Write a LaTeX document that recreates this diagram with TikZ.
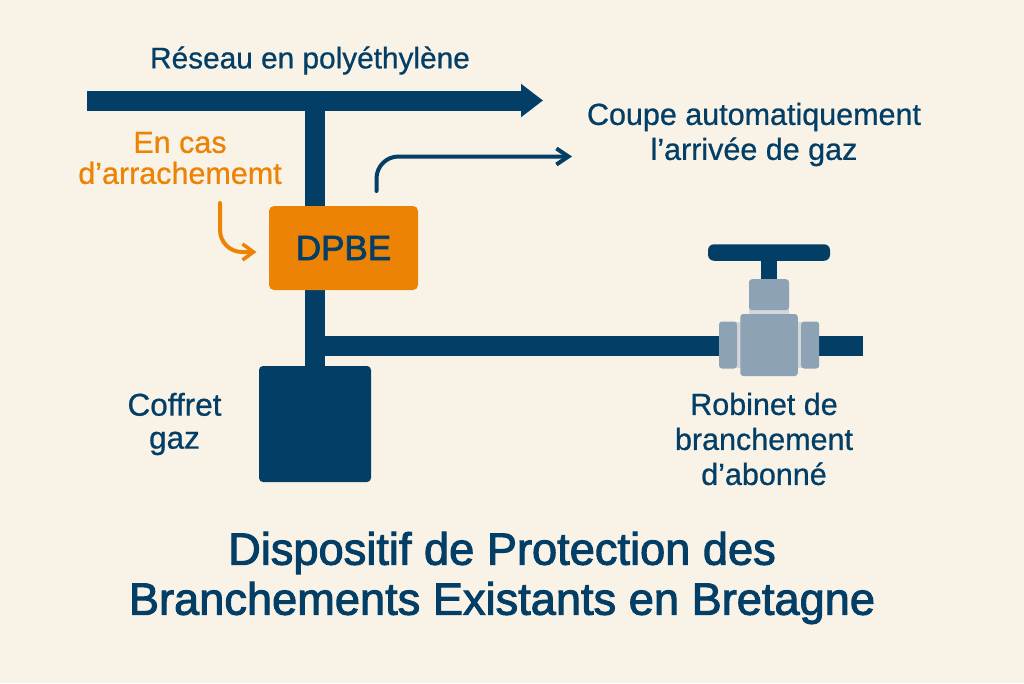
\documentclass[tikz,border=0pt]{standalone}
\usepackage{fontspec}
\setmainfont{Liberation Sans}[FakeBold=0.7]
\newfontfamily\grasfont{Liberation Sans}[FakeBold=2.2]
\usepackage{tikz}
\usetikzlibrary{arrows.meta,positioning}
\definecolor{fond}{HTML}{F8F2E7}
\definecolor{bleu}{HTML}{033E66}
\definecolor{orange}{HTML}{EC8304}
\definecolor{acier}{HTML}{8DA2B5}
\definecolor{joint}{HTML}{D3D7D9}
\newcommand{\corps}[2]{\fontsize{#1}{#2}\selectfont}
\tikzset{
	pipe/.style={draw=bleu, line width=20pt},
	lbl/.style={text=bleu, align=center, font=\corps{30.5}{35}, inner sep=0pt},
	flag/.style={draw=#1, line width=4pt, line cap=round, rounded corners=22pt},
	valvepart/.style={fill=acier, rounded corners=3pt, inner sep=0pt}
}
\begin{document}
\begin{tikzpicture}[x=1pt, y=-1pt]
			\path[fill=fond, use as bounding box] (0,0) rectangle (1024,683);
			\coordinate (net-a) at (87,100.5);
			\coordinate (net-b) at (543,100.5);
			\coordinate (riser-a) at (315,100);
			\coordinate (riser-b) at (315,370);
			\coordinate (branch-a) at (315,346);
			\coordinate (branch-b) at (725,346);
			\coordinate (tail-a) at (815,346);
			\coordinate (tail-b) at (863,346);
			\coordinate (stem-a) at (769,250);
			\coordinate (stem-b) at (769,284);
			\draw[pipe] (riser-a) -- (riser-b);
			\draw[pipe, -{Triangle[length=22pt, width=32pt]}] (net-a) -- (net-b);
			\draw[pipe] (branch-a) -- (branch-b);
			\draw[pipe] (tail-a) -- (tail-b);
			\draw[draw=bleu, line width=16.5pt] (stem-a) -- (stem-b);
			% vanne
			\node[fill=bleu, rounded corners=6pt, minimum width=122pt, minimum height=16.5pt, inner sep=0pt] (handle) at (769,252.5) {};
			\node[fill=joint, minimum width=68pt, minimum height=46pt, inner sep=0pt] (seal-h) at (769,345) {};
			\node[fill=joint, minimum width=40pt, minimum height=10pt, inner sep=0pt] (seal-v) at (769,311) {};
			\node[valvepart, minimum width=40pt, minimum height=31pt] (bonnet) at (769,294.7) {};
			\node[valvepart, minimum width=18pt, minimum height=47pt] (flange-l) at (728,345) {};
			\node[valvepart, minimum width=18pt, minimum height=47pt] (flange-r) at (810.2,345) {};
			\node[valvepart, minimum width=57.5pt, minimum height=62pt] (body) at (769,345) {};
			% boites
			\node[fill=orange, rounded corners=5pt, minimum width=149pt, minimum height=84pt, inner sep=0pt, text=bleu, font=\grasfont\corps{35}{40}] (dpbe) at (343.5,248) {DPBE};
			\node[fill=bleu, rounded corners=4pt, minimum width=112pt, minimum height=116pt, inner sep=0pt] (coffret) at (315,424) {};
			% textes
			\node[lbl, font=\corps{29.8}{35}] (reseau) at (310,60.5) {Réseau en polyéthylène};
			\node[lbl] (coupe) at (754,134.5) {Coupe automatiquement\\l’arrivée de gaz};
			\node[lbl, text=orange, font=\corps{30.5}{31}] (cas) at (180,158) {En cas\\d’arrachememt};
			\node[lbl, font=\corps{31.5}{33}] (gaz) at (174.5,424) {Coffret\\gaz};
			\node[lbl] (robinet) at (764,439) {Robinet de\\branchement\\d’abonné};
			\node[lbl, font=\grasfont\corps{45.2}{50}] (titre) at (502,578) {Dispositif de Protection des\\Branchements Existants en Bretagne};
			% fleches
			\coordinate (coupe-a) at (376.5,191);
			\coordinate (coupe-b) at (572,156.5);
			\coordinate (cas-a) at (220,203);
			\coordinate (cas-b) at (256.5,252);
			\draw[flag=bleu, -{Straight Barb[length=12pt, width=16pt, line width=4pt]}] (coupe-a) |- (coupe-b);
			\draw[flag=orange, -{Straight Barb[length=11pt, width=16pt, line width=3.5pt]}] (cas-a) |- (cas-b);
		\end{tikzpicture}
\end{document}
